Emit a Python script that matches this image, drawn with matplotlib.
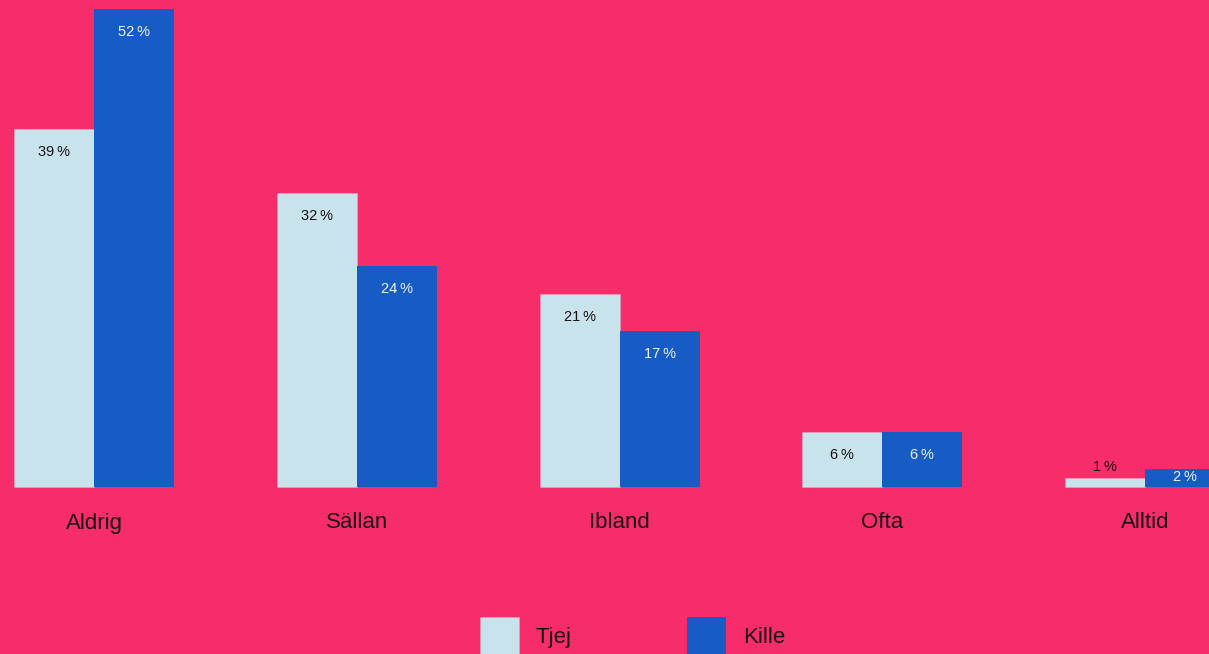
import matplotlib.pyplot as plt
import numpy as np
from matplotlib.patches import Patch

categories = ['Aldrig', 'Sällan', 'Ibland', 'Ofta', 'Alltid']
tjej = [39, 32, 21, 6, 1]
kille = [52, 24, 17, 6, 2]
series_names = ['Tjej', 'Kille']

bg = '#F72C6A'
c_tjej = '#C8E3EC'
c_kille = '#175BC4'
dark = '#1a1014'

plt.rcParams['font.family'] = ['Liberation Sans', 'DejaVu Sans']

fig = plt.figure(figsize=(12.09, 6.54), dpi=100, facecolor=bg)
ax = fig.add_axes([0, 0, 1, 1])
ax.set_facecolor(bg)

# one category step = ~263 px, bars 80 px wide
step = 262.75
w = 80 / step
x = np.arange(len(categories))
ax.set_xlim(-94 / step, (1209 - 94) / step)
px = 9.19  # pixels per percent
ax.set_ylim(-167 / px, 487 / px)

ax.bar(x - w / 2, tjej, w, color=c_tjej, edgecolor='#e9a0b8', linewidth=0.5)
ax.bar(x + w / 2, kille, w, color=c_kille, linewidth=0)

# value labels: inside near the top, small bars handled separately
for i in range(len(categories)):
    for v, off, col in [(tjej[i], -w / 2, dark), (kille[i], w / 2, '#eef2fa')]:
        if v >= 5:
            y = v - 2.5
        elif v < 1.5:
            y = v + 1.2
            col = dark
        else:
            y = v / 2 + 0.1
        ax.text(x[i] + off, y, f'{v}\u2009%', ha='center', va='center',
                fontsize=10.5, color=col)

# category labels
for i, c in enumerate(categories):
    ax.text(x[i], -36 / px, c, ha='center', va='center', fontsize=16, color=dark)

ax.axis('off')

handles = [Patch(facecolor=c_tjej, edgecolor='#e9a0b8', linewidth=0.5),
           Patch(facecolor=c_kille, edgecolor='none')]
fig.legend(handles, series_names, loc='upper left',
           bbox_to_anchor=(480 / 1209, 1 - 617 / 654), ncol=2, frameon=False,
           fontsize=16, handlelength=1.75, handleheight=2.3, handletextpad=0.75,
           columnspacing=5.2, borderpad=0, borderaxespad=0, labelcolor=dark)

fig.savefig('out.png', dpi=100, facecolor=bg)
